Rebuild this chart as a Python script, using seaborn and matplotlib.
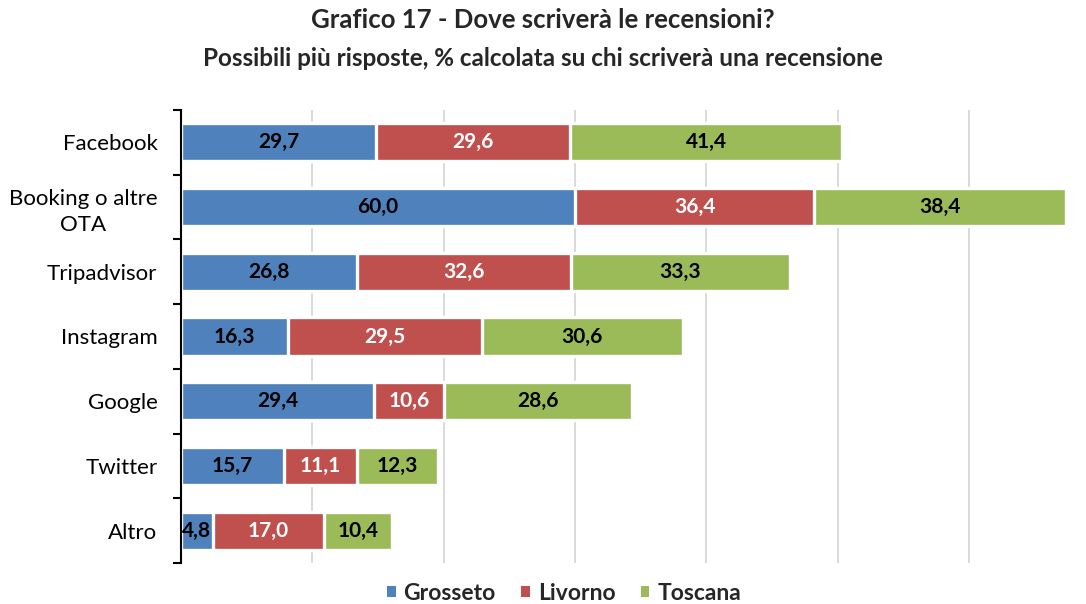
import numpy as np
import pandas as pd
import matplotlib
matplotlib.use("Agg")
import matplotlib.pyplot as plt
from matplotlib.patches import Patch
import seaborn as sns

categories = ["Facebook", "Booking o altre\nOTA", "Tripadvisor", "Instagram", "Google", "Twitter", "Altro"]
grosseto = [29.7, 60.0, 26.8, 16.3, 29.4, 15.7, 4.8]
livorno = [29.6, 36.4, 32.6, 29.5, 10.6, 11.1, 17.0]
toscana = [41.4, 38.4, 33.3, 30.6, 28.6, 12.3, 10.4]
series_names = ["Grosseto", "Livorno", "Toscana"]
colors = ["#4F81BD", "#C0504D", "#9BBB59"]
label_colors = ["black", "white", "black"]

sns.set_theme(style="white")
plt.rcParams["font.family"] = ["Lato", "DejaVu Sans"]

df = pd.DataFrame({"cat": categories, "Grosseto": grosseto, "Livorno": livorno, "Toscana": toscana})
df["c1"] = df["Grosseto"]
df["c2"] = df["Grosseto"] + df["Livorno"]
df["c3"] = df["c2"] + df["Toscana"]

fig = plt.figure(figsize=(10.86, 6.04), dpi=100)
ax = fig.add_axes([181/1086, 1 - 563/604, 1 - 181/1086, (563 - 110)/604])

for col, color in zip(["c3", "c2", "c1"], colors[::-1]):
    sns.barplot(data=df, x=col, y="cat", orient="h", color=color, width=0.59,
                edgecolor="white", linewidth=2.4, ax=ax, saturation=1)

ax.set_xlim(0, 137.8)
ax.set_xticks([20, 40, 60, 80, 100, 120])
ax.xaxis.grid(True, color="#D9D9D9", linewidth=1.4)
ax.set_axisbelow(True)
ax.tick_params(axis="x", length=0, labelbottom=False)
ax.set_xlabel("")
ax.set_ylabel("")
n = len(categories)
ax.set_ylim(n - 0.5, -0.5)
ax.set_yticks(np.arange(-0.5, n, 1.0), minor=True)
ax.tick_params(axis="y", which="minor", length=6, width=1.5, color="black", left=True)
ax.tick_params(axis="y", which="major", length=0, pad=17, labelsize=16, labelcolor="black")
for lab in ax.get_yticklabels():
    lab.set_multialignment("center")
    lab.set_linespacing(1.35)
for s in ["top", "right", "bottom"]:
    ax.spines[s].set_visible(False)
ax.spines["left"].set_color("black")
ax.spines["left"].set_linewidth(1.5)

vals = [grosseto, livorno, toscana]
for i in range(n):
    start = 0.0
    for k in range(3):
        v = vals[k][i]
        ax.text(start + v / 2, i, f"{v:.1f}".replace(".", ","), ha="center", va="center",
                fontsize=15, fontweight="bold", color=label_colors[k])
        start += v

fig.text(0.5, 1 - 20/604, "Grafico 17 - Dove scriverà le recensioni?", ha="center", va="center",
         fontsize=18.5, fontweight="bold")
fig.text(0.5, 1 - 58/604, "Possibili più risposte, % calcolata su chi scriverà una recensione", ha="center",
         va="center", fontsize=17.5, fontweight="bold")

handles = [Patch(facecolor=c, edgecolor="none") for c in colors]
fig.legend(handles, series_names, loc="center", bbox_to_anchor=(564/1086, 1 - 593/604), ncol=3,
           frameon=False, prop={"size": 16.5, "weight": "bold"}, handlelength=0.38, handleheight=0.38,
           columnspacing=1.1, handletextpad=0.35, borderpad=0)

fig.savefig("out.png", dpi=100)
